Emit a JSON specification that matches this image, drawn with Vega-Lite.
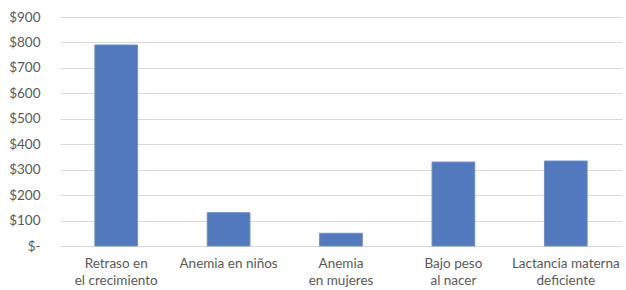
{
  "$schema": "https://vega.github.io/schema/vega-lite/v6.json",
  "width": 562,
  "height": 229,
  "autosize": {"type": "none"},
  "padding": {"left": 60, "top": 17, "right": 4, "bottom": 44},
  "background": "white",
  "config": {
    "view": {"stroke": null},
    "font": "Lato"
  },
  "data": {
    "values": [
      {"cat": "Retraso en|el crecimiento", "value": 790},
      {"cat": "Anemia en niños", "value": 131},
      {"cat": "Anemia|en mujeres", "value": 50},
      {"cat": "Bajo peso|al nacer", "value": 330},
      {"cat": "Lactancia materna|deficiente", "value": 334}
    ]
  },
  "mark": {"type": "bar", "color": "#5279bd", "stroke": "#6f90c8", "strokeWidth": 1},
  "encoding": {
    "x": {
      "field": "cat",
      "type": "nominal",
      "sort": null,
      "scale": {"paddingInner": 0.62, "paddingOuter": 0.31},
      "axis": {
        "title": null,
        "labelAngle": 0,
        "labelExpr": "split(datum.label, '|')",
        "labelFont": "Lato",
        "labelFontSize": 13.5,
        "labelColor": "#595959",
        "labelLineHeight": 17,
        "labelPadding": 10,
        "ticks": false,
        "domain": false,
        "labelLimit": 200
      }
    },
    "y": {
      "field": "value",
      "type": "quantitative",
      "scale": {"domain": [0, 900], "nice": false},
      "axis": {
        "title": null,
        "values": [0, 100, 200, 300, 400, 500, 600, 700, 800, 900],
        "labelExpr": "datum.value == 0 ? '$-' : '$' + datum.value",
        "labelFont": "Lato",
        "labelFontSize": 13.5,
        "labelColor": "#595959",
        "labelPadding": 20,
        "ticks": false,
        "domain": false,
        "grid": true,
        "gridColor": "#d9d9d9",
        "gridWidth": 1
      }
    }
  }
}
